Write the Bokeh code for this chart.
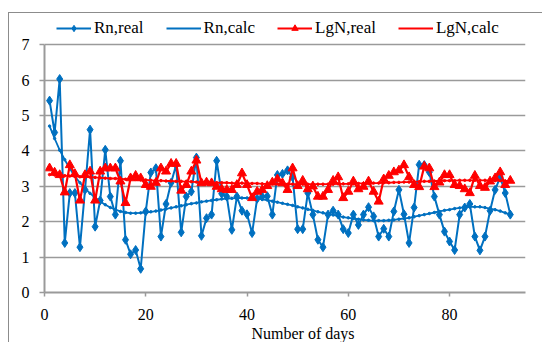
from bokeh.plotting import figure
from bokeh.models import Range1d, Legend, LegendItem, Title, FixedTicker
from bokeh.embed import file_html
from bokeh.resources import INLINE

days = list(range(1, 93))

rn_real = [5.42, 4.52, 6.03, 1.40, 2.81, 2.81, 1.28, 2.90, 4.60, 1.86,
           2.60, 4.03, 2.71, 2.20, 3.72, 1.49, 1.08, 1.20, 0.67, 2.29,
           3.39, 3.51, 1.58, 2.50, 3.10, 3.60, 1.70, 2.71, 2.85, 3.81,
           1.60, 2.10, 2.20, 3.72, 2.79, 2.71, 1.77, 2.71, 2.31, 2.21,
           1.68, 2.65, 2.71, 2.72, 2.20, 3.32, 3.35, 3.45, 3.26, 1.79,
           1.79, 2.81, 2.20, 1.49, 1.28, 2.20, 2.31, 2.20, 1.79, 1.68,
           2.20, 1.91, 2.20, 2.41, 2.15, 1.58, 1.80, 1.58, 2.29, 2.90,
           2.21, 1.40, 2.40, 3.61, 3.60, 3.40, 2.71, 2.20, 1.72, 1.44,
           1.20, 2.20, 2.40, 2.50, 1.58, 1.19, 1.58, 2.31, 2.90, 3.26,
           2.81, 2.20]

rn_calc = [4.70, 4.35, 4.02, 3.75, 3.50, 3.28, 3.10, 2.94, 2.80, 2.68,
           2.57, 2.48, 2.40, 2.34, 2.29, 2.26, 2.24, 2.24, 2.25, 2.26,
           2.28, 2.30, 2.33, 2.36, 2.39, 2.42, 2.45, 2.48, 2.51, 2.53,
           2.56, 2.58, 2.60, 2.62, 2.64, 2.65, 2.66, 2.67, 2.67, 2.67,
           2.66, 2.65, 2.63, 2.61, 2.58, 2.55, 2.52, 2.49, 2.46, 2.42,
           2.39, 2.35, 2.32, 2.28, 2.25, 2.22, 2.19, 2.16, 2.13, 2.11,
           2.09, 2.07, 2.05, 2.04, 2.03, 2.03, 2.03, 2.04, 2.05, 2.07,
           2.09, 2.11, 2.14, 2.17, 2.20, 2.23, 2.26, 2.29, 2.32, 2.34,
           2.37, 2.39, 2.41, 2.42, 2.42, 2.42, 2.40, 2.37, 2.34, 2.30,
           2.25, 2.20]

lgn_real = [3.51, 3.39, 3.32, 2.83, 3.60, 3.35, 2.60, 3.32, 3.42, 2.60,
            3.42, 3.51, 3.51, 3.51, 3.14, 2.53, 3.23, 3.30, 3.23, 3.04,
            2.99, 3.10, 3.51, 3.42, 3.64, 3.64, 2.88, 3.04, 3.42, 3.73,
            3.09, 3.11, 3.09, 2.99, 2.92, 2.90, 2.90, 3.04, 3.37, 3.04,
            2.67, 2.85, 2.90, 3.01, 3.11, 3.20, 3.09, 2.90, 3.51, 3.01,
            3.16, 2.92, 3.00, 2.71, 2.71, 2.90, 3.16, 3.26, 2.67, 2.85,
            3.14, 2.92, 2.99, 3.14, 2.85, 2.57, 3.20, 3.30, 3.40, 3.45,
            3.60, 3.26, 3.04, 2.98, 3.56, 3.51, 2.98, 3.11, 3.32, 3.32,
            3.04, 3.01, 2.92, 2.81, 3.30, 3.01, 2.96, 3.14, 3.23, 3.40,
            3.04, 3.16]

lgn_calc = [3.33, 3.32, 3.31, 3.30, 3.29, 3.28, 3.27, 3.26, 3.26, 3.25,
            3.24, 3.23, 3.22, 3.22, 3.21, 3.20, 3.20, 3.19, 3.18, 3.18,
            3.17, 3.16, 3.16, 3.15, 3.15, 3.14, 3.14, 3.13, 3.13, 3.12,
            3.12, 3.11, 3.11, 3.10, 3.10, 3.10, 3.09, 3.09, 3.09, 3.08,
            3.08, 3.08, 3.07, 3.07, 3.07, 3.07, 3.07, 3.06, 3.06, 3.06,
            3.06, 3.06, 3.06, 3.06, 3.06, 3.06, 3.06, 3.07, 3.07, 3.07,
            3.07, 3.08, 3.08, 3.08, 3.09, 3.09, 3.10, 3.10, 3.11, 3.11,
            3.12, 3.12, 3.13, 3.13, 3.14, 3.14, 3.15, 3.15, 3.16, 3.16,
            3.16, 3.17, 3.17, 3.17, 3.17, 3.17, 3.17, 3.17, 3.16, 3.16,
            3.15, 3.15]

x_ticks = [0, 20, 40, 60, 80]
y_ticks = [0, 1, 2, 3, 4, 5, 6, 7]
x_title = "Number of days"

BLUE = "#0070C0"
RED = "#FF0000"
GRID = "#9a9a9a"
FONT = "'Liberation Serif'"
AXFONT = "'Times New Roman', 'Liberation Serif', serif"

p = figure(frame_width=481, frame_height=274,
           x_range=Range1d(0, 95), y_range=Range1d(0, 7.74),
           output_backend="svg", toolbar_location=None,
           min_border_left=35, min_border_right=17,
           min_border_top=5, min_border_bottom=50)

p.styles = {"border-left": "1.5px solid #8c8c8c",
            "border-top": "1.5px solid #8c8c8c",
            "margin-top": "12px",
            "margin-left": "8px"}

p.outline_line_color = None
p.background_fill_color = "white"
p.border_fill_color = "white"

for ax in (p.xaxis[0], p.yaxis[0]):
    ax.axis_line_color = GRID
    ax.axis_line_width = 2
    ax.major_tick_line_color = GRID
    ax.major_tick_line_width = 1.5
    ax.minor_tick_line_color = None
    ax.major_label_text_font = AXFONT
    ax.major_label_text_font_style = "normal"
    ax.major_label_text_font_size = "16px"
    ax.major_label_text_color = "black"

p.xaxis[0].ticker = FixedTicker(ticks=x_ticks)
p.yaxis[0].ticker = FixedTicker(ticks=y_ticks)
p.yaxis[0].bounds = (0, 7)
p.xaxis[0].major_tick_in = 0
p.xaxis[0].major_tick_out = 4
p.xaxis[0].major_label_standoff = 12
p.yaxis[0].major_tick_in = 0
p.yaxis[0].major_tick_out = 5
p.yaxis[0].major_label_standoff = 10

p.xgrid.grid_line_color = None
p.ygrid.ticker = FixedTicker(ticks=y_ticks[1:])
p.ygrid.grid_line_color = GRID
p.ygrid.grid_line_width = 1.6

r1l = p.line(days, rn_real, line_color=BLUE, line_width=2)
r1m = p.scatter(days, rn_real, marker="diamond", size=9, fill_color=BLUE, line_color=BLUE)
r2l = p.line(days, rn_calc, line_color=BLUE, line_width=1.8)
r2m = p.scatter(days, rn_calc, marker="circle", size=2.5, fill_color=BLUE, line_color=BLUE)
r3l = p.line(days, lgn_real, line_color=RED, line_width=2.2)
r3m = p.scatter(days, lgn_real, marker="triangle", size=9, fill_color=RED, line_color=RED)
r4l = p.line(days, lgn_calc, line_color=RED, line_width=1.8)
r4m = p.scatter(days, lgn_calc, marker="circle", size=2.5, fill_color=RED, line_color=RED)

legend = Legend(items=[
    LegendItem(label="Rn,real", renderers=[r1l, r1m]),
    LegendItem(label="Rn,calc", renderers=[r2l]),
    LegendItem(label="LgN,real", renderers=[r3l, r3m]),
    LegendItem(label="LgN,calc", renderers=[r4l]),
], orientation="horizontal", location=(12, 254))
legend.label_text_font = FONT
legend.label_text_font_size = "17px"
legend.label_text_color = "black"
legend.glyph_width = 35
legend.glyph_height = 16
legend.label_height = 16
legend.label_standoff = 3
legend.spacing = 22
legend.padding = 2
legend.margin = 0
legend.border_line_color = None
legend.background_fill_alpha = 0
p.add_layout(legend)

p.add_layout(Title(text=x_title, align="left", offset=207, standoff=0,
                   text_font=FONT, text_font_size="16px", text_font_style="normal",
                   text_color="black"), "below")

open("out.html", "w").write(file_html(p, INLINE))
